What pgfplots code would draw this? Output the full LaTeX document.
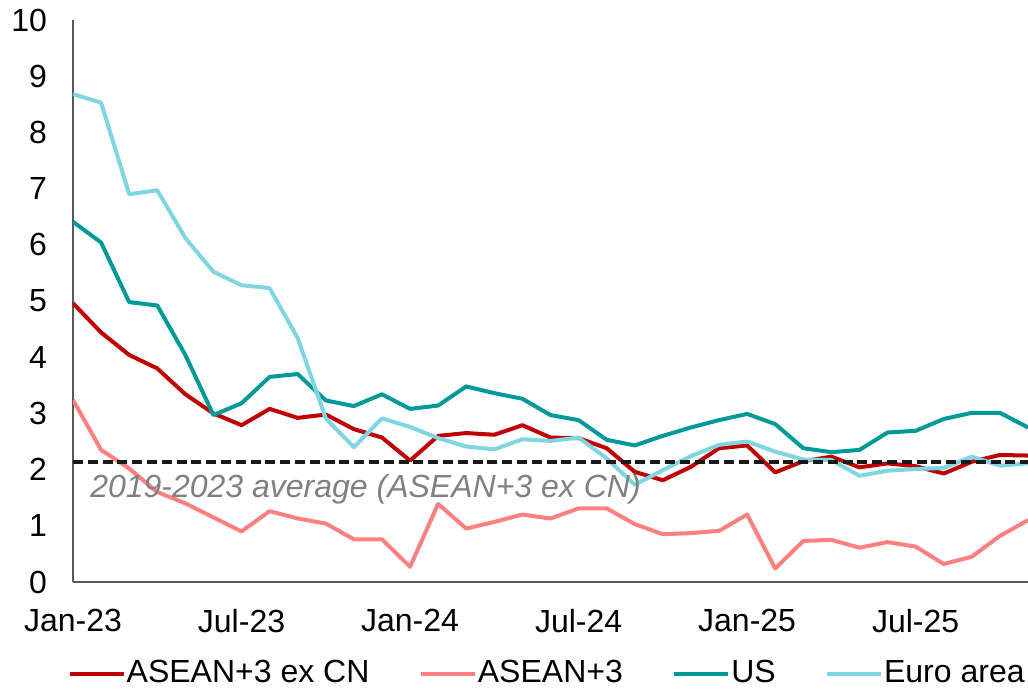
\documentclass[border=0pt]{standalone}
\usepackage{pgfplots}
\usepackage{pgfplotstable}
\pgfplotsset{compat=1.18}
\usepackage{fontspec}
\setmainfont{Liberation Sans}
\definecolor{cRed}{RGB}{192,0,0}
\definecolor{cPink}{RGB}{255,128,128}
\definecolor{cTeal}{RGB}{0,153,153}
\definecolor{cCyan}{RGB}{128,214,224}
\definecolor{cGray}{RGB}{128,128,128}

\pgfplotstableread{
i red pink us euro
0 4.96 3.24 6.41 8.68
1 4.44 2.35 6.04 8.53
2 4.04 2.02 4.98 6.90
3 3.80 1.60 4.92 6.97
4 3.34 1.40 4.04 6.12
5 3.00 1.15 2.97 5.52
6 2.79 0.90 3.18 5.28
7 3.08 1.26 3.65 5.23
8 2.92 1.13 3.70 4.34
9 2.98 1.04 3.23 2.91
10 2.72 0.76 3.13 2.40
11 2.57 0.76 3.34 2.91
12 2.16 0.27 3.08 2.76
13 2.60 1.39 3.14 2.56
14 2.65 0.95 3.48 2.41
15 2.62 1.07 3.36 2.36
16 2.79 1.20 3.26 2.54
17 2.57 1.13 2.97 2.51
18 2.56 1.31 2.88 2.57
19 2.38 1.31 2.53 2.20
20 1.96 1.03 2.43 1.73
21 1.81 0.85 2.60 1.99
22 2.05 0.87 2.75 2.24
23 2.38 0.91 2.88 2.44
24 2.43 1.20 2.99 2.50
25 1.95 0.24 2.81 2.32
26 2.15 0.73 2.38 2.18
27 2.23 0.75 2.31 2.17
28 2.04 0.61 2.35 1.89
29 2.11 0.71 2.66 1.98
30 2.06 0.63 2.69 2.01
31 1.93 0.32 2.90 2.03
32 2.14 0.45 3.01 2.23
33 2.26 0.82 3.01 2.07
34 2.25 1.10 2.75 2.11
}\datatable

\begin{document}
\fontsize{16pt}{19pt}\selectfont
\begin{tikzpicture}
\begin{axis}[
  at={(0,0)}, anchor=south west,
  scale only axis, width=477.5pt, height=281pt,
  xmin=0, xmax=34, ymin=0, ymax=10,
  axis x line*=bottom, axis y line*=left,
  axis line style={draw=black!65, line width=0.6pt},
  xtick={0,6,12,18,24,30},
  xticklabels={Jan-23,Jul-23,Jan-24,Jul-24,Jan-25,Jul-25},
  ytick={0,1,...,10},
  major tick length=0pt,
  tick style={draw=none},
  /pgf/number format/assume math mode=true,
  tick label style={font=\fontsize{16pt}{19pt}\selectfont, text=black},
  yticklabel style={xshift=-7.5pt},
  xticklabel style={yshift=-8pt},
  legend style={draw=none, fill=none, at={(0.496,-0.163)}, anchor=center,
    font=\fontsize{16pt}{19pt}\selectfont, legend columns=4,
    /tikz/every even column/.append style={column sep=24pt},
    nodes={inner sep=0.6pt}},
  legend image code/.code={\draw[#1] (0pt,0pt) -- (27pt,0pt);},
  every axis plot/.append style={line width=2pt, line join=round},
]
\addplot[cRed] table[x=i, y=red] {\datatable};
\addlegendentry{ASEAN+3 ex CN}
\addplot[cPink] table[x=i, y=pink] {\datatable};
\addlegendentry{ASEAN+3}
\addplot[cTeal] table[x=i, y=us] {\datatable};
\addlegendentry{US}
\addplot[cCyan] table[x=i, y=euro] {\datatable};
\addlegendentry{Euro area}
\addplot[black!90, line width=1.9pt, dash pattern=on 5pt off 2.4pt, forget plot] coordinates {(0,2.13) (34,2.13)};
\node[anchor=base west, text=cGray, font=\fontsize{16pt}{19pt}\selectfont\itshape, inner sep=0pt] at (axis cs:0.6,1.51) {2019-2023 average (ASEAN+3 ex CN)};
\end{axis}
\pgfresetboundingbox
\path (-36.5pt,-53.5pt) rectangle (477.5pt,291pt);
\end{tikzpicture}
\end{document}
